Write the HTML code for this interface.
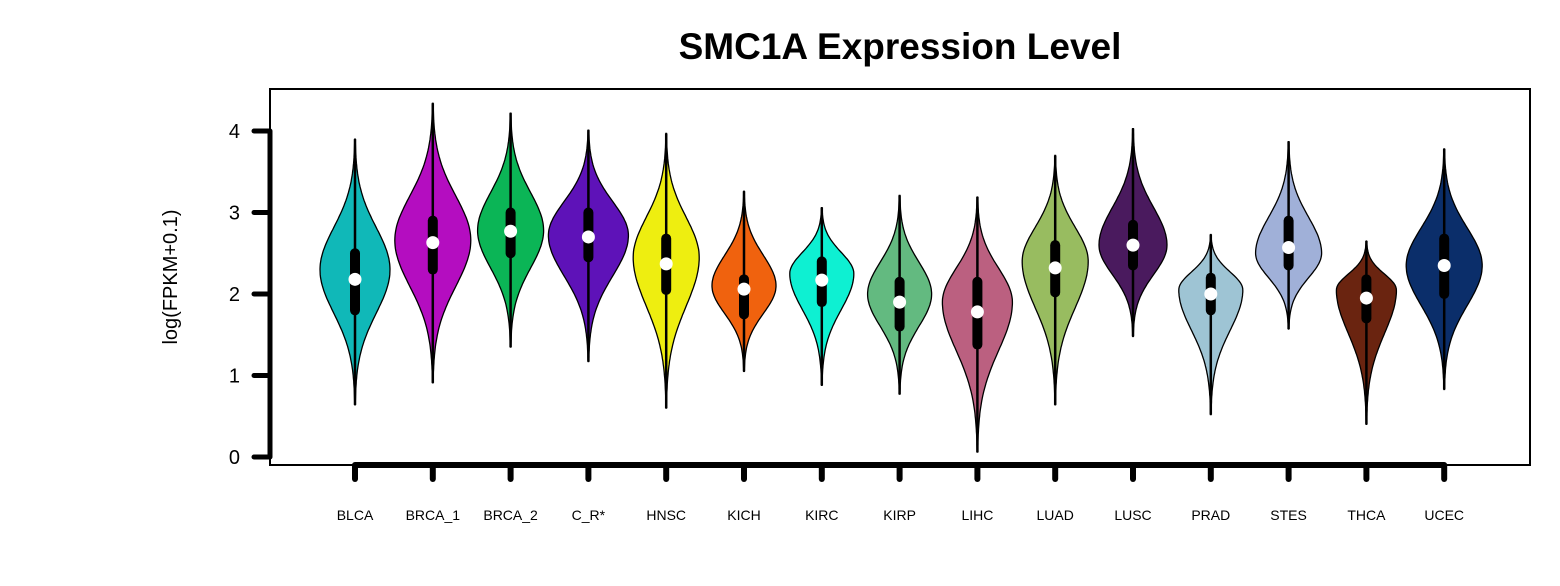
<!DOCTYPE html>
<html><head><meta charset="utf-8"><style>
body{margin:0;background:#fff}
svg{display:block;font-family:"Liberation Sans",Arial,sans-serif}
</style></head><body>
<svg id="chart" width="1560" height="586" viewBox="0 0 1560 586" xmlns="http://www.w3.org/2000/svg">
<rect x="0" y="0" width="1560" height="586" fill="#fff"/>
<text x="900" y="59" text-anchor="middle" font-size="37" font-weight="bold">SMC1A Expression Level</text>
<rect x="270" y="89" width="1260" height="376" fill="none" stroke="#000" stroke-width="2"/>
<text transform="translate(177,277) rotate(-90)" text-anchor="middle" font-size="20">log(FPKM+0.1)</text>
<g id="yaxis"></g>
<g id="xaxis"></g>
<g id="violins"></g>
</svg>
<script>
const categories=["BLCA","BRCA_1","BRCA_2","C_R*","HNSC","KICH","KIRC","KIRP","LIHC","LUAD","LUSC","PRAD","STES","THCA","UCEC"];
const colors=["#10B8B8","#B40DC0","#0BB556","#5E12B8","#EEEE10","#F0620E","#0EF0D2","#63BA80","#BB6080","#98BC60","#4A1A5E","#9EC4D4","#A0B0D8","#6A2410","#0B2E6A"];
const minVals=[0.64,0.91,1.35,1.17,0.6,1.05,0.88,0.77,0.06,0.64,1.48,0.52,1.57,0.4,0.83];
const maxVals=[3.9,4.34,4.22,4.01,3.97,3.26,3.06,3.21,3.19,3.7,4.03,2.73,3.87,2.65,3.78];
const modeVals=[2.3,2.66,2.78,2.72,2.45,2.1,2.25,2.0,1.9,2.4,2.6,2.05,2.5,2.05,2.35];
const medians=[2.18,2.63,2.77,2.7,2.37,2.06,2.17,1.9,1.78,2.32,2.6,2.0,2.57,1.95,2.35];
const q1Vals=[1.8,2.3,2.5,2.45,2.05,1.75,1.9,1.6,1.38,2.02,2.35,1.8,2.35,1.7,2.0];
const q3Vals=[2.5,2.9,3.0,3.0,2.68,2.18,2.4,2.15,2.15,2.6,2.85,2.2,2.9,2.18,2.68];
const widths=[35,38,33,40,33,32,32,32,35,33,34,32,33,30,38];
const yTicks=[0,1,2,3,4];
const NS="http://www.w3.org/2000/svg";
const y0=457,yk=81.5;
function ys(v){return y0-v*yk;}
function xs(i){return 355+i*77.8;}
function mk(t,a,p){const e=document.createElementNS(NS,t);for(const k in a)e.setAttribute(k,a[k]);p.appendChild(e);return e;}
const ya=document.getElementById('yaxis');
const ylab=mk('line',{x1:270,x2:270,y1:ys(yTicks[0]),y2:ys(yTicks[yTicks.length-1]),stroke:'#000','stroke-width':5},ya);


yTicks.forEach(t=>{
 const l=mk('line',{x1:254,x2:270,y1:ys(t),y2:ys(t),stroke:'#000','stroke-width':5,'stroke-linecap':'round'},ya);
 
 
 const tx=mk('text',{x:240,y:ys(t)+7,'text-anchor':'end','font-size':20},ya);
 tx.textContent=t;
 
 
});
const xa=document.getElementById('xaxis');
const xl=mk('line',{x1:xs(0),x2:xs(categories.length-1),y1:465,y2:465,stroke:'#000','stroke-width':6},xa);


const vg=document.getElementById('violins');
categories.forEach((c,i)=>{
 const x=xs(i);
 const t=mk('line',{x1:x,x2:x,y1:465,y2:479,stroke:'#000','stroke-width':6,'stroke-linecap':'round'},xa);
 
 
 const tx=mk('text',{x:x,y:520,'text-anchor':'middle','font-size':14},xa);
 tx.textContent=c;
 
 
 const g=mk('g',{},vg);
 
 
 const mn=minVals[i],mx=maxVals[i],mo=modeVals[i],w=widths[i];
 const su=(mx-mo)/3.1,sd=(mo-mn)/3.1;
 const pts=[];const N=100;
 for(let k=0;k<=N;k++){const v=mn+(mx-mn)*k/N;const s=v>mo?su:sd;pts.push([v,w*Math.exp(-Math.pow(v-mo,2)/(2*s*s))]);}
 let d='M'+x+','+ys(mn);
 pts.forEach(p=>d+=' L'+(x+p[1]).toFixed(1)+','+ys(p[0]).toFixed(1));
 for(let k=pts.length-1;k>=0;k--)d+=' L'+(x-pts[k][1]).toFixed(1)+','+ys(pts[k][0]).toFixed(1);
 d+='Z';
 const p=mk('path',{d:d,fill:colors[i],stroke:'#000','stroke-width':1.3},g);
 
 
 const wl=mk('line',{x1:x,x2:x,y1:ys(mn),y2:ys(mx),stroke:'#000','stroke-width':2.5},g);
 
 
 const b=mk('line',{x1:x,x2:x,y1:ys(q1Vals[i]),y2:ys(q3Vals[i]),stroke:'#000','stroke-width':10,'stroke-linecap':'round'},g);
 
 
 const m=mk('circle',{cx:x,cy:ys(medians[i]),r:6.5,fill:'#fff'},g);
 
 
});
</script>
</body></html>
